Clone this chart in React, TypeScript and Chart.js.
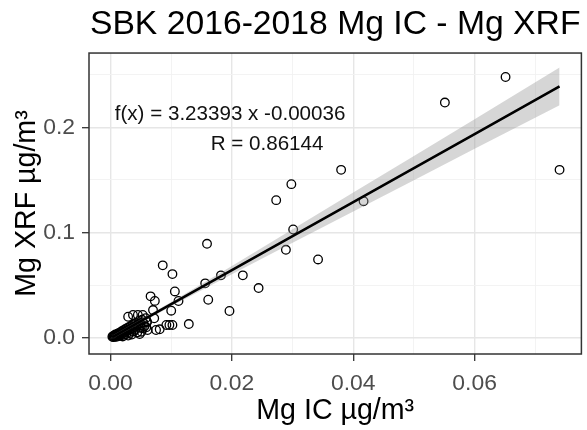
import React, { useEffect, useRef } from 'react';
import { Chart, registerables } from 'chart.js';

Chart.register(...registerables);

const titleText = 'SBK 2016-2018 Mg IC - Mg XRF';
const xTitle = 'Mg IC µg/m³';
const yTitle = 'Mg XRF µg/m³';

const xMajorTicks = [0, 0.02, 0.04, 0.06];
const xMinorTicks = [0.01, 0.03, 0.05, 0.07];
const yMajorTicks = [0, 0.1, 0.2];
const yMinorTicks = [0.05, 0.15, 0.25];

// Mg IC (x) and Mg XRF (y) sample values
const icValues = [
  0.0003, 0.0004, 0.0005, 0.0006, 0.0007, 0.0008, 0.0009, 0.0010, 0.0011, 0.0012,
  0.0013, 0.0014, 0.0015, 0.0016, 0.0017, 0.0018, 0.0019, 0.0020, 0.0021, 0.0022,
  0.0023, 0.0024, 0.0025, 0.0026, 0.0027, 0.0028, 0.0029, 0.0030, 0.0031, 0.0032,
  0.0033, 0.0034, 0.0035, 0.0036, 0.0037, 0.0038, 0.0039, 0.0040, 0.0041, 0.0042,
  0.0043, 0.0044, 0.0045, 0.0047, 0.0049, 0.0050, 0.0052, 0.0054, 0.0056, 0.0058,
  0.0060, 0.0029, 0.0037, 0.0045, 0.0048, 0.0051, 0.0053, 0.0053, 0.0059, 0.0060,
  0.0061, 0.0072, 0.0075, 0.0081, 0.0092, 0.0097, 0.0102, 0.0129, 0.0070, 0.0100,
  0.0196, 0.0066, 0.0073, 0.0161, 0.0112, 0.0106, 0.0156, 0.0244, 0.0086, 0.0102,
  0.0182, 0.0218, 0.0159, 0.0289, 0.0342, 0.0301, 0.0273, 0.0417, 0.0298, 0.0380,
  0.0740, 0.0551, 0.0651,
];
const xrfValues = [
  0.0008, 0.0015, 0.0005, 0.0022, 0.0012, 0.0030, 0.0018, 0.0008, 0.0035, 0.0025,
  0.0042, 0.0015, 0.0030, 0.0050, 0.0022, 0.0060, 0.0038, 0.0012, 0.0070, 0.0048,
  0.0028, 0.0080, 0.0058, 0.0035, 0.0090, 0.0065, 0.0020, 0.0100, 0.0075, 0.0045,
  0.0110, 0.0085, 0.0030, 0.0120, 0.0095, 0.0060, 0.0130, 0.0105, 0.0075, 0.0140,
  0.0115, 0.0050, 0.0125, 0.0160, 0.0135, 0.0095, 0.0170, 0.0145, 0.0110, 0.0185,
  0.0150, 0.0199, 0.0216, 0.0216, 0.0035, 0.0057, 0.0089, 0.0216, 0.0099, 0.0152,
  0.0073, 0.0184, 0.0073, 0.0080, 0.0121, 0.0121, 0.0121, 0.0130, 0.0263, 0.0257,
  0.0254, 0.0393, 0.0350, 0.0361, 0.0349, 0.0440, 0.0517, 0.0472, 0.0688, 0.0605,
  0.0593, 0.0593, 0.0893, 0.0836, 0.0744, 0.1029, 0.1308, 0.1298, 0.1460, 0.1596,
  0.1596, 0.2236, 0.2479,
];

// fitted line f(x) = 3.23393 x - 0.00036 and its confidence band
const fitX = [0.0003, 0.01, 0.02, 0.03, 0.04, 0.05, 0.06, 0.074];
const fitY = [0.00061, 0.03198, 0.06432, 0.09666, 0.129, 0.16134, 0.19368, 0.23895];
const bandLower = [-0.0009, 0.0300, 0.0603, 0.0902, 0.1200, 0.1498, 0.1797, 0.2210];
const bandUpper = [0.0021, 0.0340, 0.0683, 0.1032, 0.1380, 0.1728, 0.2077, 0.2570];

const equationLabel = 'f(x) = 3.23393 x -0.00036';
const rLabel = 'R = 0.86144';

const FONT = '"Liberation Sans", Arial, Helvetica, sans-serif';

const near = (arr: number[], v: number) => arr.some((a) => Math.abs(a - v) < 1e-9);

const panelPlugin = {
  id: 'panelDecor',
  afterDatasetsDraw(chart: any) {
    const { ctx, chartArea, scales } = chart;
    ctx.save();
    ctx.fillStyle = '#111111';
    ctx.font = `20.6px ${FONT}`;
    ctx.textAlign = 'center';
    ctx.textBaseline = 'middle';
    ctx.fillText(equationLabel, scales.x.getPixelForValue(0.0197), scales.y.getPixelForValue(0.2124));
    ctx.fillText(rLabel, scales.x.getPixelForValue(0.0258), scales.y.getPixelForValue(0.184));
    ctx.strokeStyle = '#333333';
    ctx.lineWidth = 1.5;
    ctx.strokeRect(chartArea.left, chartArea.top, chartArea.right - chartArea.left, chartArea.bottom - chartArea.top);
    ctx.restore();
  },
};

export default function App() {
  const canvasRef = useRef<HTMLCanvasElement | null>(null);

  useEffect(() => {
    if (!canvasRef.current) return;
    const points = icValues.map((x, i) => ({ x, y: xrfValues[i] }));
    const line = fitX.map((x, i) => ({ x, y: fitY[i] }));
    const lower = fitX.map((x, i) => ({ x, y: bandLower[i] }));
    const upper = fitX.map((x, i) => ({ x, y: bandUpper[i] }));

    const gridColor = (ctx: any, major: number[]) =>
      near(major, ctx.tick?.value) ? 'rgb(230,230,230)' : 'rgb(242,242,242)';
    const gridWidth = (ctx: any, major: number[]) => (near(major, ctx.tick?.value) ? 1.4 : 0.9);
    const tickColor = (ctx: any, major: number[]) => (near(major, ctx.tick?.value) ? '#333333' : 'rgba(0,0,0,0)');

    const chart = new Chart(canvasRef.current, {
      type: 'scatter',
      data: {
        datasets: [
          {
            label: 'points',
            data: points,
            order: 3,
            pointStyle: 'circle',
            pointRadius: 4.3,
            pointBorderWidth: 1.3,
            pointBorderColor: '#000000',
            pointBackgroundColor: 'rgba(0,0,0,0)',
            showLine: false,
          },
          {
            label: 'lower',
            data: lower,
            order: 2,
            showLine: true,
            pointRadius: 0,
            borderWidth: 0,
            borderColor: 'rgba(0,0,0,0)',
            fill: false,
          },
          {
            label: 'upper',
            data: upper,
            order: 2,
            showLine: true,
            pointRadius: 0,
            borderWidth: 0,
            borderColor: 'rgba(0,0,0,0)',
            backgroundColor: 'rgba(153,153,153,0.4)',
            fill: '-1',
          },
          {
            label: 'fit',
            data: line,
            order: 1,
            showLine: true,
            pointRadius: 0,
            borderWidth: 2.6,
            borderColor: '#000000',
            fill: false,
          },
        ],
      },
      options: {
        animation: false,
        responsive: true,
        maintainAspectRatio: false,
        layout: { padding: { left: 0, right: 2, top: 0, bottom: 0 } },
        plugins: {
          legend: { display: false },
          tooltip: { enabled: false },
          title: {
            display: true,
            text: titleText,
            fullSize: false,
            align: 'center',
            color: '#000000',
            font: { family: FONT, size: 33.7, weight: 'normal' },
            padding: { top: 4, bottom: 8.6 },
          },
        },
        scales: {
          x: {
            type: 'linear',
            min: -0.00355,
            max: 0.0776,
            afterBuildTicks: (scale: any) => {
              scale.ticks = [...xMajorTicks, ...xMinorTicks].sort((a, b) => a - b).map((v) => ({ value: v }));
            },
            afterFit: (scale: any) => {
              scale.height = 76;
            },
            border: { display: false },
            grid: {
              color: (c: any) => gridColor(c, xMajorTicks),
              lineWidth: (c: any) => gridWidth(c, xMajorTicks),
              tickColor: (c: any) => tickColor(c, xMajorTicks),
              tickWidth: 1.3,
              tickLength: 7,
              drawTicks: true,
            },
            ticks: {
              autoSkip: false,
              maxRotation: 0,
              padding: 9,
              color: '#4d4d4d',
              font: { family: FONT, size: 22.9 },
              callback: (v: any) => (near(xMajorTicks, Number(v)) ? Number(v).toFixed(2) : ''),
            },
            title: {
              display: true,
              text: xTitle,
              color: '#000000',
              font: { family: FONT, size: 28.6 },
              padding: { top: 0, bottom: 1.3 },
            },
          },
          y: {
            type: 'linear',
            min: -0.0155,
            max: 0.2707,
            afterBuildTicks: (scale: any) => {
              scale.ticks = [...yMajorTicks, ...yMinorTicks].sort((a, b) => a - b).map((v) => ({ value: v }));
            },
            afterFit: (scale: any) => {
              scale.width = 89;
            },
            border: { display: false },
            grid: {
              color: (c: any) => gridColor(c, yMajorTicks),
              lineWidth: (c: any) => gridWidth(c, yMajorTicks),
              tickColor: (c: any) => tickColor(c, yMajorTicks),
              tickWidth: 1.3,
              tickLength: 7,
              drawTicks: true,
            },
            ticks: {
              autoSkip: false,
              padding: 7,
              color: '#4d4d4d',
              font: { family: FONT, size: 22.9 },
              callback: (v: any) => (near(yMajorTicks, Number(v)) ? Number(v).toFixed(1) : ''),
            },
            title: {
              display: true,
              text: yTitle,
              color: '#000000',
              font: { family: FONT, size: 28.6 },
              padding: { top: 10, bottom: 0 },
            },
          },
        },
      },
      plugins: [panelPlugin],
    } as any);

    return () => chart.destroy();
  }, []);

  return (
    <div style={{ position: 'absolute', left: 0, top: 0, width: 587, height: 430, background: '#ffffff' }}>
      <canvas ref={canvasRef} />
    </div>
  );
}
